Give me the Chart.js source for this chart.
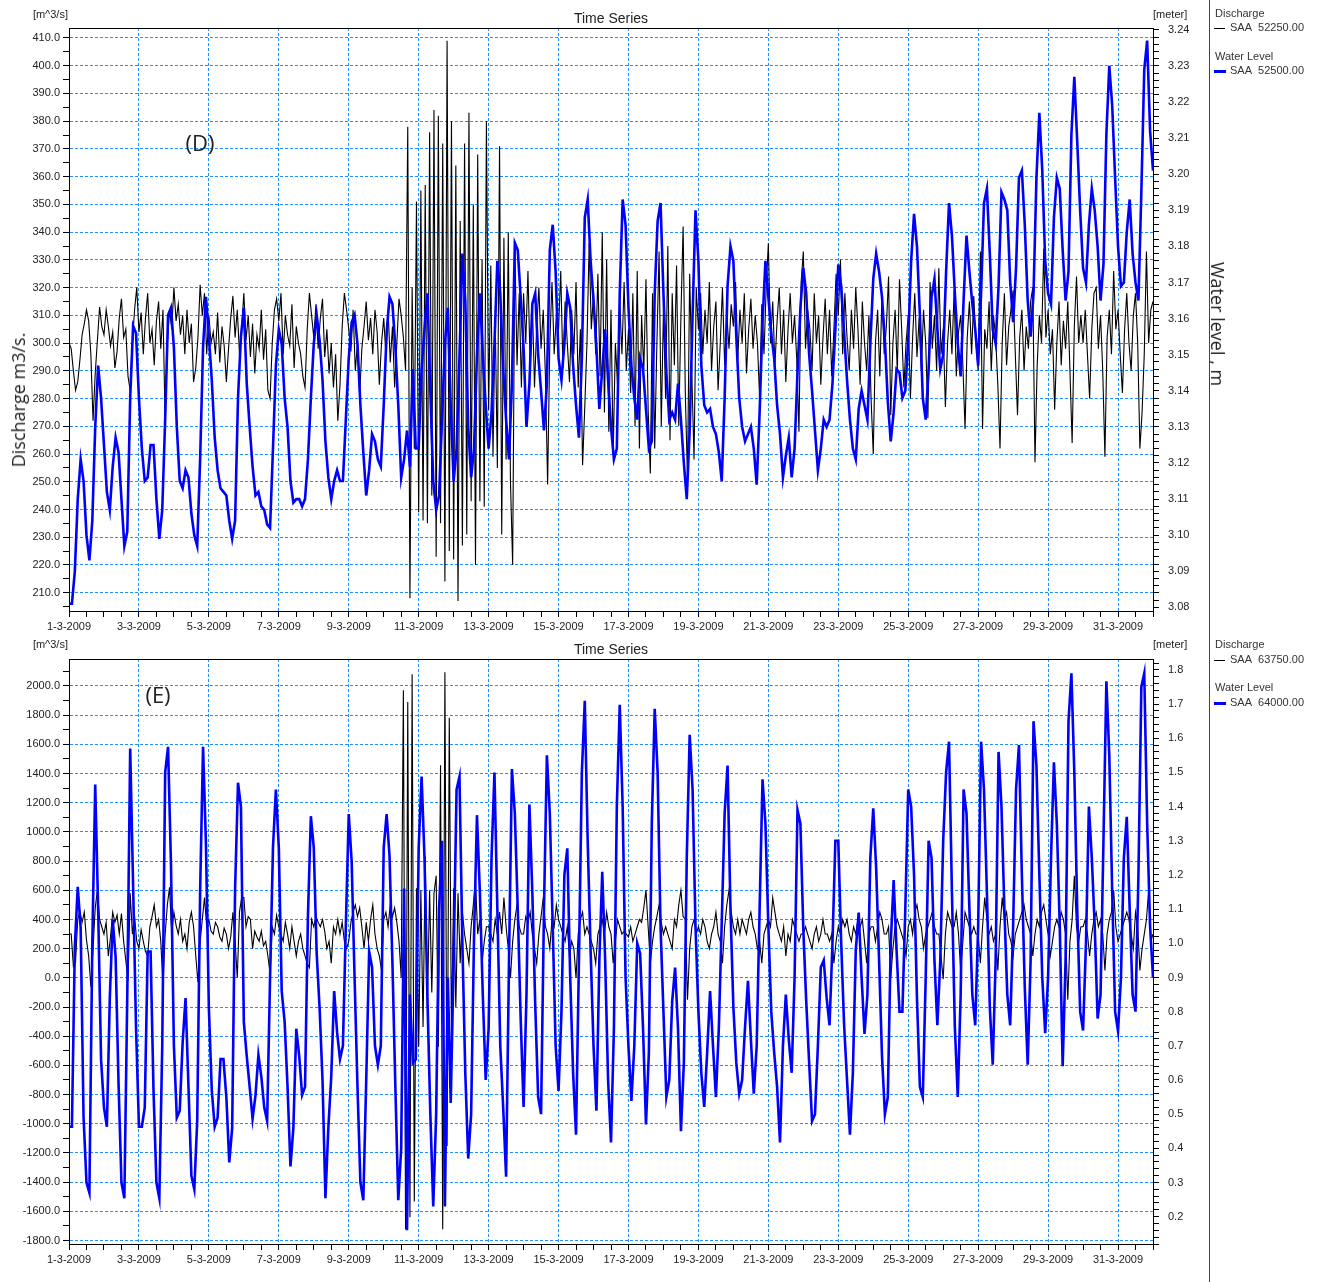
<!DOCTYPE html>
<html>
<head>
<meta charset="utf-8">
<script src="https://cdn.jsdelivr.net/npm/chart.js@4.4.1/dist/chart.umd.min.js"></script>
<style>
  body { margin: 0; background: #fff; }
  #wrap { position: relative; width: 1325px; height: 1282px; overflow: hidden; font-family: "Liberation Sans", Arial, sans-serif; color: #222; }
  canvas { position: absolute; left: 0; }
  .t { position: absolute; font-size: 11px; line-height: 1; white-space: nowrap; }
  .ln { position: absolute; }
  .big { position: absolute; font-family: "Open Sans", sans-serif; white-space: nowrap; line-height: 1; color: #222; }
</style>
</head>
<body>
<div id="wrap">
  <canvas id="c1" width="1209" height="640" style="top:0"></canvas>
  <canvas id="c2" width="1209" height="642" style="top:640px"></canvas>

  <!-- textos do painel de cima -->
  <div class="t" style="right:1257px;top:9px">[m^3/s]</div>
  <div class="t" style="left:1153px;top:9px">[meter]</div>
  <div class="t" style="left:611px;top:11px;font-size:14px;transform:translateX(-50%)">Time Series</div>
  <div class="big" style="left:200px;top:142px;font-size:22px;transform:translate(-50%,-50%)">(D)</div>
  <div class="big" style="left:18px;top:400px;font-size:18px;transform:translate(-50%,-50%) rotate(-90deg)">Discharge m3/s.</div>
  <div class="big" style="left:1218px;top:324px;font-size:18px;transform:translate(-50%,-50%) rotate(90deg)">Water level , m</div>

  <!-- textos do painel de baixo -->
  <div class="t" style="right:1257px;top:639px">[m^3/s]</div>
  <div class="t" style="left:1153px;top:639px">[meter]</div>
  <div class="t" style="left:611px;top:642px;font-size:14px;transform:translateX(-50%)">Time Series</div>
  <div class="big" style="left:158px;top:694px;font-size:22px;transform:translate(-50%,-50%)">(E)</div>

  <!-- legenda -->
  <div class="ln" style="left:1209px;top:0;width:1px;height:1282px;background:#444"></div>
  <div class="t" style="left:1215px;top:8px;color:#333">Discharge</div>
  <div class="ln" style="left:1214px;top:28px;width:11px;height:1px;background:#000"></div>
  <div class="t" style="left:1230px;top:22px;color:#333">SAA&nbsp;&nbsp;52250.00</div>
  <div class="t" style="left:1215px;top:51px;color:#333">Water Level</div>
  <div class="ln" style="left:1214px;top:70px;width:12px;height:3px;background:#00f"></div>
  <div class="t" style="left:1230px;top:65px;color:#333">SAA&nbsp;&nbsp;52500.00</div>

  <div class="t" style="left:1215px;top:639px;color:#333">Discharge</div>
  <div class="ln" style="left:1214px;top:660px;width:11px;height:1px;background:#000"></div>
  <div class="t" style="left:1230px;top:654px;color:#333">SAA&nbsp;&nbsp;63750.00</div>
  <div class="t" style="left:1215px;top:682px;color:#333">Water Level</div>
  <div class="ln" style="left:1214px;top:702px;width:12px;height:3px;background:#00f"></div>
  <div class="t" style="left:1230px;top:697px;color:#333">SAA&nbsp;&nbsp;64000.00</div>
</div>

<script>
// eixo x em dias desde 1-3-2009
let porDiaVazao = 16; // amostras por dia (vazão)
let porDiaNivel = 12; // amostras por dia (nível)

let datas = ["1-3-2009", "3-3-2009", "5-3-2009", "7-3-2009", "9-3-2009", "11-3-2009", "13-3-2009", "15-3-2009",
  "17-3-2009", "19-3-2009", "21-3-2009", "23-3-2009", "25-3-2009", "27-3-2009", "29-3-2009", "31-3-2009"];

// (D) vazão m3/s, uma linha por dia
let vazaoD = [
  300,298,290,283,286,294,303,307,312,308,296,272,289,301,313,306,
  303,312,306,299,304,291,297,309,316,302,305,288,283,300,312,320,
  304,311,296,309,318,300,305,292,308,315,298,312,271,300,312,305,
  320,308,314,303,310,296,312,300,307,286,291,302,321,310,318,296,
  310,300,304,296,311,293,306,299,286,298,309,317,302,312,296,305,
  318,301,310,295,307,289,303,298,312,294,305,283,280,300,312,316,
  308,318,296,310,303,299,314,291,306,300,296,288,284,305,318,310,
  302,314,298,309,316,295,305,289,300,284,296,272,285,306,318,312,
  305,297,312,290,300,281,298,306,315,301,309,296,312,304,285,300,
  309,296,312,293,306,284,300,316,310,302,290,378,208,320,262,351,
  239,355,236,357,235,376,245,384,223,382,235,372,214,409,225,380,
  222,364,207,344,227,372,231,383,243,350,220,368,243,330,241,380,
  276,328,259,310,255,371,231,338,258,340,250,220,335,292,318,284,
  318,300,326,292,315,284,306,320,298,312,288,249,300,322,296,310,
  305,326,291,315,300,286,312,296,322,284,305,256,277,300,336,305,
  318,296,325,288,340,275,330,268,312,260,300,285,315,296,322,290,
  305,282,318,270,326,262,310,290,323,276,253,318,262,300,333,270,
  312,280,335,265,318,292,328,270,310,342,282,251,325,288,258,320,
  305,318,296,312,300,322,290,306,315,283,300,320,292,310,298,314,
  306,322,294,312,300,318,289,305,316,298,310,300,280,314,296,320,
  336,300,315,292,308,320,296,312,286,305,318,300,310,294,268,322,
  333,298,312,305,290,318,300,310,285,302,316,296,312,288,305,325,
  310,330,296,318,302,290,312,298,320,305,285,315,300,290,310,280,
  260,300,312,288,318,296,306,324,274,300,312,290,323,305,284,300,
  310,280,302,318,295,309,290,312,300,273,322,298,310,290,327,296,
  305,277,300,312,296,319,288,304,310,292,269,302,315,296,317,300,
  290,333,269,305,298,315,290,310,302,285,262,300,318,292,306,312,
  319,296,274,302,312,290,306,298,315,320,257,292,310,300,334,302,
  312,296,305,276,300,315,292,308,298,315,290,264,306,324,300,310,
  300,312,296,280,305,318,320,298,310,290,259,302,312,296,326,305,
  312,296,282,305,318,300,290,310,318,300,262,275,296,333,300,312,
  315
];

// (D) nível m
let nivelD = [
  3.081,3.081,3.090,3.110,3.121,3.115,3.100,3.093,3.104,3.130,3.147,3.138,
  3.125,3.112,3.107,3.119,3.127,3.123,3.110,3.097,3.101,3.138,3.158,3.156,
  3.138,3.124,3.115,3.116,3.125,3.125,3.110,3.099,3.107,3.132,3.161,3.163,
  3.152,3.130,3.115,3.113,3.118,3.116,3.106,3.100,3.097,3.121,3.152,3.166,
  3.155,3.143,3.127,3.118,3.113,3.112,3.111,3.104,3.099,3.104,3.138,3.155,
  3.163,3.142,3.130,3.119,3.111,3.112,3.108,3.107,3.103,3.102,3.124,3.147,
  3.157,3.153,3.138,3.130,3.115,3.109,3.110,3.110,3.108,3.110,3.121,3.138,
  3.153,3.161,3.154,3.143,3.126,3.116,3.110,3.115,3.118,3.115,3.115,3.132,
  3.149,3.159,3.161,3.153,3.136,3.123,3.111,3.118,3.128,3.126,3.121,3.119,
  3.136,3.156,3.166,3.164,3.152,3.136,3.116,3.121,3.129,3.119,3.146,3.124,
  3.124,3.146,3.157,3.167,3.140,3.115,3.107,3.111,3.132,3.153,3.163,3.136,
  3.115,3.124,3.149,3.178,3.165,3.130,3.116,3.124,3.150,3.167,3.150,3.136,
  3.124,3.134,3.153,3.176,3.167,3.146,3.132,3.121,3.142,3.181,3.179,3.166,
  3.152,3.130,3.142,3.164,3.167,3.150,3.140,3.129,3.142,3.179,3.186,3.173,
  3.149,3.143,3.153,3.167,3.163,3.147,3.136,3.127,3.149,3.188,3.193,3.176,
  3.165,3.152,3.135,3.146,3.157,3.143,3.130,3.121,3.124,3.167,3.193,3.186,
  3.163,3.147,3.138,3.132,3.149,3.146,3.135,3.124,3.126,3.167,3.187,3.192,
  3.167,3.145,3.132,3.134,3.132,3.142,3.132,3.120,3.110,3.129,3.161,3.190,
  3.176,3.147,3.136,3.134,3.135,3.130,3.128,3.123,3.115,3.138,3.169,3.180,
  3.176,3.155,3.138,3.130,3.126,3.128,3.130,3.124,3.114,3.134,3.159,3.176,
  3.166,3.156,3.149,3.136,3.128,3.116,3.122,3.127,3.116,3.124,3.145,3.163,
  3.174,3.167,3.150,3.140,3.129,3.118,3.124,3.132,3.130,3.132,3.142,3.157,
  3.175,3.169,3.156,3.143,3.132,3.124,3.121,3.135,3.140,3.136,3.132,3.153,
  3.171,3.178,3.173,3.166,3.154,3.137,3.126,3.134,3.146,3.145,3.138,3.140,
  3.154,3.176,3.189,3.180,3.161,3.138,3.132,3.146,3.166,3.171,3.157,3.146,
  3.150,3.173,3.192,3.183,3.167,3.153,3.144,3.165,3.183,3.173,3.164,3.157,
  3.147,3.167,3.192,3.196,3.178,3.157,3.153,3.169,3.195,3.193,3.190,3.170,
  3.159,3.174,3.199,3.201,3.186,3.165,3.155,3.167,3.199,3.217,3.201,3.176,
  3.167,3.164,3.188,3.199,3.196,3.179,3.165,3.173,3.211,3.227,3.209,3.190,
  3.174,3.170,3.186,3.196,3.190,3.180,3.165,3.175,3.211,3.230,3.219,3.199,
  3.180,3.169,3.170,3.184,3.193,3.178,3.170,3.165,3.195,3.229,3.237,3.212,
  3.201
];

// (E) vazão m3/s
let vazaoE = [
  300,300,80,110,400,455,380,450,260,150,-60,200,480,600,400,350,
  300,380,150,280,450,380,430,300,440,250,120,-20,580,300,420,250,
  200,330,250,180,150,350,420,500,350,400,250,-50,300,500,620,300,
  450,360,300,400,250,300,200,380,450,350,150,-30,250,400,550,350,
  400,320,300,380,350,280,250,340,300,200,280,450,250,0,450,550,
  550,350,420,400,200,320,280,250,320,220,250,150,30,350,300,430,
  350,300,250,380,300,200,350,250,150,250,300,200,150,100,70,400,
  350,420,380,350,400,320,200,250,100,350,300,400,300,380,250,200,
  250,380,450,500,420,480,350,200,380,250,400,500,300,200,150,50,
  400,450,350,500,420,480,380,250,0,1970,-1723,1891,-1641,2081,-1533,614,
  -473,600,-337,831,-200,600,-100,580,700,-473,1456,-1723,2095,-1152,1782,-400,
  614,-200,580,100,450,300,200,100,350,500,668,300,400,100,250,350,
  350,300,250,400,300,450,300,550,350,200,0,250,400,500,350,300,
  300,420,380,450,300,200,100,300,420,550,350,300,200,400,350,500,
  400,350,300,250,350,150,250,200,0,300,400,450,300,350,300,250,
  200,100,300,350,400,300,450,350,300,100,250,400,350,300,320,300,
  280,350,250,300,350,400,380,480,600,350,100,250,350,420,500,380,
  300,350,300,250,200,400,350,500,600,420,400,-150,200,350,400,300,
  350,300,400,350,250,200,300,350,450,300,250,100,350,500,600,450,
  350,300,400,300,400,350,300,400,450,350,300,200,250,100,300,350,
  400,350,550,450,350,300,250,350,150,300,250,400,350,300,250,300,
  300,350,300,250,200,300,350,250,300,400,300,300,250,300,100,250,
  350,300,400,350,400,300,250,350,300,400,350,400,250,100,300,350,
  350,250,350,450,400,300,300,350,0,200,350,400,350,300,250,150,
  350,400,300,450,500,400,350,200,300,350,400,450,350,300,300,150,
  -10,300,450,400,350,350,450,300,50,250,450,400,350,300,350,300,
  300,100,350,550,400,300,350,250,300,50,350,550,400,450,300,250,
  150,300,350,400,450,500,400,350,300,150,300,400,350,450,500,400,
  300,150,250,350,400,350,450,400,300,-150,250,400,700,350,250,350,
  350,400,300,150,300,400,450,350,400,300,50,300,400,450,600,350,
  250,300,350,400,450,400,300,200,450,350,50,200,300,400,600,250,
  300
];

// (E) nível m
let nivelE = [
  0.463,0.463,0.99,1.165,1.046,0.49,0.30,0.27,1.0,1.465,1.10,0.661,
  0.52,0.463,0.84,1.069,0.96,0.59,0.30,0.254,0.85,1.57,1.17,0.755,
  0.463,0.463,0.52,0.976,0.976,0.57,0.30,0.254,0.70,1.50,1.575,1.23,
  0.70,0.49,0.51,0.71,0.84,0.58,0.32,0.28,0.48,1.15,1.575,1.29,
  0.81,0.57,0.463,0.49,0.661,0.661,0.55,0.359,0.46,1.16,1.47,1.40,
  0.77,0.67,0.58,0.487,0.555,0.673,0.61,0.52,0.48,0.90,1.28,1.45,
  1.28,0.86,0.77,0.58,0.347,0.46,0.75,0.67,0.556,0.58,1.08,1.372,
  1.28,0.97,0.81,0.60,0.254,0.46,0.61,0.86,0.74,0.661,0.70,1.05,
  1.378,1.24,0.90,0.58,0.30,0.248,0.60,0.976,0.93,0.70,0.644,0.70,
  1.28,1.378,1.255,0.94,0.58,0.248,0.40,1.16,0.16,0.85,0.65,0.66,
  1.28,1.488,1.25,0.84,0.50,0.23,0.50,1.10,1.30,0.23,0.90,0.533,
  0.95,1.45,1.488,1.0,0.62,0.37,0.50,1.02,1.375,1.15,0.85,0.60,
  0.75,1.25,1.50,1.10,0.70,0.52,0.317,0.95,1.51,1.38,1.10,0.78,
  0.521,0.85,1.406,1.15,0.82,0.55,0.50,1.10,1.55,1.38,1.05,0.70,
  0.568,0.80,1.20,1.278,0.90,0.62,0.44,0.95,1.50,1.71,1.30,0.98,
  0.70,0.51,0.95,1.209,0.95,0.60,0.417,0.75,1.40,1.698,1.40,0.90,
  0.696,0.539,0.70,1.0,0.97,0.75,0.47,0.68,1.35,1.686,1.50,1.05,
  0.80,0.55,0.60,0.83,0.929,0.75,0.45,0.65,1.25,1.61,1.45,1.05,
  0.80,0.62,0.521,0.68,0.86,0.70,0.55,0.75,1.06,1.38,1.52,1.10,
  0.813,0.65,0.56,0.60,0.755,0.89,0.72,0.56,0.70,1.10,1.48,1.35,
  1.05,0.80,0.68,0.58,0.417,0.70,0.85,0.72,0.621,0.90,1.39,1.35,
  1.04,0.83,0.65,0.48,0.50,0.70,0.93,0.95,0.84,0.760,1.0,1.30,
  1.30,1.0,0.76,0.60,0.440,0.62,0.98,1.09,0.90,0.735,0.85,1.25,
  1.395,1.22,0.95,0.67,0.50,0.55,1.0,1.185,0.98,0.80,0.80,1.10,
  1.45,1.40,1.20,0.84,0.58,0.55,0.90,1.30,1.25,0.95,0.76,0.95,
  1.30,1.50,1.59,1.15,0.755,0.55,0.85,1.45,1.38,1.10,0.85,0.76,
  1.05,1.59,1.45,1.15,0.813,0.645,0.95,1.56,1.40,1.10,0.85,0.76,
  1.05,1.45,1.58,1.20,0.871,0.645,0.95,1.65,1.52,1.20,0.90,0.737,
  0.90,1.25,1.53,1.35,1.05,0.64,0.95,1.65,1.79,1.50,1.10,0.80,
  0.745,1.00,1.40,1.25,1.05,0.78,0.85,1.30,1.767,1.55,1.15,0.80,
  0.743,0.90,1.25,1.37,1.10,0.85,0.80,1.20,1.75,1.79,1.35,1.05,
  0.90
];

let azulGrade = "rgb(30,144,255)";
let fonte = { family: "Liberation Sans", size: 11 };

// transforma a série em pontos {x: dia, y: valor}
function pontos(valores, porDia) {
  return valores.map((v, i) => ({ x: i / porDia, y: v }));
}

function lista(min, max, passo) {
  let v = [];
  for (let n = Math.ceil(min / passo - 1e-9); n <= Math.floor(max / passo + 1e-9); n++) {
    v.push(+(n * passo).toFixed(6));
  }
  return v;
}

function multiplo(v, passo) {
  return Math.abs(v / passo - Math.round(v / passo)) < 1e-6;
}

// eixo y com marcas menores e rótulos só nas principais
function eixoY(pos, min, max, passo, passoRotulo, casas, largura, pad, grade) {
  let valores = lista(min, max, passo);
  return {
    type: "linear", position: pos, min: min, max: max,
    afterBuildTicks: s => { s.ticks = valores.map(v => ({ value: v })); },
    afterFit: s => { s.width = largura; },
    ticks: {
      autoSkip: false, padding: pad, color: "#222", font: fonte,
      callback: v => multiplo(v, passoRotulo) ? v.toFixed(casas) : ""
    },
    grid: {
      drawOnChartArea: grade, tickLength: 6, tickColor: "#000", lineWidth: 1,
      color: c => (c.tick && multiplo(c.tick.value, passoRotulo)) ? azulGrade : "rgba(0,0,0,0)"
    },
    border: { color: "#000", width: 1, dash: [3, 2] }
  };
}

function eixoX(alturaX) {
  let valores = lista(0, 31, 0.5);
  return {
    type: "linear", min: 0, max: 31,
    afterBuildTicks: s => { s.ticks = valores.map(v => ({ value: v })); },
    afterFit: s => { s.height = alturaX; },
    ticks: {
      autoSkip: false, maxRotation: 0, minRotation: 0, padding: 3, color: "#222", font: fonte,
      callback: v => multiplo(v, 2) ? datas[Math.round(v / 2)] : ""
    },
    grid: {
      tickLength: 6, tickColor: "#000", lineWidth: 1,
      color: c => (c.tick && multiplo(c.tick.value, 2) && c.tick.value > 0 && c.tick.value < 31) ? azulGrade : "rgba(0,0,0,0)"
    },
    border: { color: "#000", width: 1, dash: [3, 2] }
  };
}

// borda de cima da área do gráfico
let moldura = {
  id: "moldura",
  afterDraw(chart) {
    let a = chart.chartArea;
    let ctx = chart.ctx;
    ctx.save();
    ctx.strokeStyle = "#000";
    ctx.lineWidth = 1;
    ctx.beginPath();
    ctx.moveTo(a.left, Math.round(a.top) + 0.5);
    ctx.lineTo(a.right, Math.round(a.top) + 0.5);
    ctx.stroke();
    ctx.restore();
  }
};

function painel(id, vazao, nivel, topo, alturaX, esq, dir) {
  let ctx = document.getElementById(id).getContext("2d");
  return new Chart(ctx, {
    type: "line",
    data: {
      datasets: [
        { label: "Water Level", data: pontos(nivel, porDiaNivel), yAxisID: "yR",
          borderColor: "#0000ff", borderWidth: 2.6, pointRadius: 0, tension: 0, order: 0 },
        { label: "Discharge", data: pontos(vazao, porDiaVazao), yAxisID: "yL",
          borderColor: "#000", borderWidth: 1.1, pointRadius: 0, tension: 0, order: 1 }
      ]
    },
    options: {
      responsive: false,
      animation: false,
      devicePixelRatio: 1,
      layout: { padding: { top: topo, left: 0, right: 0, bottom: 0 } },
      plugins: { legend: { display: false }, tooltip: { enabled: false }, title: { display: false } },
      scales: { x: eixoX(alturaX), yL: esq, yR: dir }
    },
    plugins: [moldura]
  });
}

painel("c1", vazaoD, nivelD, 28, 29,
  eixoY("left", 203.4, 413.6, 5, 10, 1, 69, 3, true),
  eixoY("right", 3.079, 3.2405, 0.002, 0.01, 2, 56, 9, false));

painel("c2", vazaoE, nivelE, 19, 38,
  eixoY("left", -1824, 2185, 100, 200, 1, 69, 3, true),
  eixoY("right", 0.12, 1.832, 0.02, 0.1, 1, 56, 9, false));
</script>
</body>
</html>
